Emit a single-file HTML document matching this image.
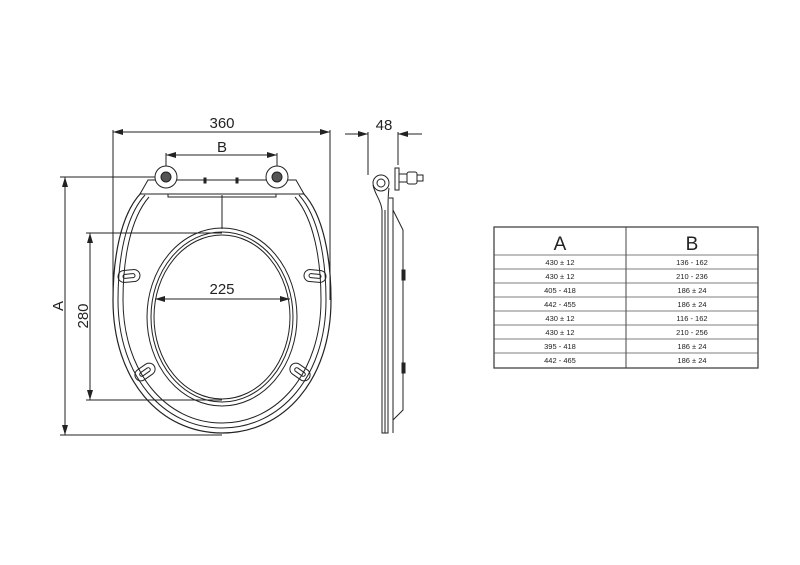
<!DOCTYPE html>
<html><head><style>
html,body{margin:0;padding:0;background:#fff;}
svg{display:block}
text{font-family:"Liberation Sans",sans-serif;fill:#222}
</style></head><body>
<svg width="800" height="565" viewBox="0 0 800 565" xmlns="http://www.w3.org/2000/svg">
<defs>
<marker id="ar" viewBox="0 0 10 6" refX="10" refY="3" markerWidth="10" markerHeight="6" orient="auto-start-reverse" markerUnits="userSpaceOnUse"><path d="M0,0 L10,3 L0,6z" fill="#222"/></marker>
</defs>
<g stroke="#222" fill="none" stroke-width="1">
<!-- dimension 360 -->
<line x1="113" y1="132" x2="330" y2="132" marker-start="url(#ar)" marker-end="url(#ar)"/>
<line x1="113" y1="130" x2="113" y2="300"/>
<line x1="330" y1="130" x2="330" y2="300"/>
<!-- B -->
<line x1="166" y1="155" x2="277" y2="155" marker-start="url(#ar)" marker-end="url(#ar)"/>
<line x1="166" y1="153" x2="166" y2="175"/>
<line x1="277" y1="153" x2="277" y2="175"/>
<!-- 48 -->
<line x1="345" y1="134" x2="368" y2="134" marker-end="url(#ar)"/>
<line x1="398" y1="134" x2="422" y2="134" marker-start="url(#ar)"/>
<line x1="368" y1="132" x2="368" y2="175"/>
<line x1="398" y1="132" x2="398" y2="165"/>
<!-- A -->
<line x1="65" y1="177" x2="65" y2="435" marker-start="url(#ar)" marker-end="url(#ar)"/>
<line x1="60" y1="177" x2="160" y2="177"/>
<line x1="60" y1="435" x2="222" y2="435"/>
<!-- 280 -->
<line x1="90" y1="233" x2="90" y2="400" marker-start="url(#ar)" marker-end="url(#ar)"/>
<line x1="86" y1="233" x2="222" y2="233"/>
<line x1="86" y1="400" x2="222" y2="400"/>
<!-- 225 -->
<line x1="155" y1="299" x2="290" y2="299" marker-start="url(#ar)" marker-end="url(#ar)"/>
<line x1="222" y1="195" x2="222" y2="229"/>
<!-- seat outer -->
<path d="M141,193 C120,215 113,260 113,300 C113,380 160,433 222,433 C284,433 331,380 331,300 C331,260 324,215 303,193" stroke-width="1.2"/>
<path d="M145,195 C125,217 118,260 118,300 C118,376 163,428 222,428 C281,428 326,376 326,300 C326,260 319,217 299,195"/>
<path d="M149,197 C130,219 123,260 123,300 C123,372 166,423 222,423 C278,423 321,372 321,300 C321,260 314,219 295,197"/>
<!-- opening -->
<ellipse cx="222" cy="317" rx="75" ry="89"/>
<ellipse cx="222" cy="317" rx="71" ry="85"/>
<ellipse cx="222" cy="317" rx="68" ry="82"/>
<!-- hinge bar -->
<path d="M140,194 L148,180 L296,180 L304,194 Z"/>
<line x1="140" y1="194" x2="304" y2="194"/>
<rect x="168" y="194" width="108" height="3"/>
<circle cx="166" cy="177" r="11" fill="#fff"/>
<circle cx="166" cy="177" r="5" fill="#555"/>
<circle cx="277" cy="177" r="11" fill="#fff"/>
<circle cx="277" cy="177" r="5" fill="#555"/>
<rect x="204" y="178" width="2" height="5" fill="#222"/>
<rect x="236" y="178" width="2" height="5" fill="#222"/>
<!-- slots -->
<g transform="translate(129,276) rotate(-5)"><rect x="-11" y="-6" width="22" height="12" rx="6"/><rect x="-6" y="-2" width="12" height="4" rx="2"/></g>
<g transform="translate(315,276) rotate(5)"><rect x="-11" y="-6" width="22" height="12" rx="6"/><rect x="-6" y="-2" width="12" height="4" rx="2"/></g>
<g transform="translate(145,372) rotate(-35)"><rect x="-11" y="-6" width="22" height="12" rx="6"/><rect x="-6" y="-2" width="12" height="4" rx="2"/></g>
<g transform="translate(300,372) rotate(35)"><rect x="-11" y="-6" width="22" height="12" rx="6"/><rect x="-6" y="-2" width="12" height="4" rx="2"/></g>
<!-- side view -->
<circle cx="381" cy="183" r="8"/>
<circle cx="381" cy="183" r="4"/>
<path d="M373,185 C375,195 381,200 382,210 L382,433 L388,433 L388,210 C388,200 388,195 389,188"/>
<line x1="385" y1="210" x2="385" y2="433"/>
<path d="M389,198 L393,198 L393,433"/>
<path d="M393,210 L403,230 L403,410 L393,420"/>
<rect x="395" y="168" width="4" height="22" fill="#fff"/>
<rect x="399" y="174" width="8" height="8"/>
<rect x="407" y="172" width="10" height="12" rx="2"/>
<rect x="417" y="175" width="6" height="6"/>
<rect x="402" y="270" width="3" height="10" fill="#222"/>
<rect x="402" y="363" width="3" height="10" fill="#222"/>
<!-- table -->
<rect x="494" y="227" width="264" height="141" stroke="#444" stroke-width="1.3"/>
<line x1="626" y1="227" x2="626" y2="368" stroke="#444"/>
<g stroke="#555" stroke-width="0.8">
<line x1="494" y1="255" x2="758" y2="255"/>
<line x1="494" y1="269" x2="758" y2="269"/>
<line x1="494" y1="283" x2="758" y2="283"/>
<line x1="494" y1="297" x2="758" y2="297"/>
<line x1="494" y1="311" x2="758" y2="311"/>
<line x1="494" y1="325" x2="758" y2="325"/>
<line x1="494" y1="339" x2="758" y2="339"/>
<line x1="494" y1="353" x2="758" y2="353"/>
</g>
</g>
<g font-size="15" text-anchor="middle">
<text x="222" y="128">360</text>
<text x="222" y="152">B</text>
<text x="384" y="130">48</text>
<text x="222" y="294">225</text>
<text transform="translate(63,306) rotate(-90)" text-anchor="middle">A</text>
<text transform="translate(88,316) rotate(-90)" text-anchor="middle">280</text>
</g>
<g text-anchor="middle">
<text x="560" y="250" font-size="19">A</text>
<text x="692" y="250" font-size="19">B</text>
<g font-size="7.5">
<text x="560" y="265">430 ± 12</text><text x="692" y="265">136 - 162</text>
<text x="560" y="279">430 ± 12</text><text x="692" y="279">210 - 236</text>
<text x="560" y="293">405 - 418</text><text x="692" y="293">186 ± 24</text>
<text x="560" y="307">442 - 455</text><text x="692" y="307">186 ± 24</text>
<text x="560" y="321">430 ± 12</text><text x="692" y="321">116 - 162</text>
<text x="560" y="335">430 ± 12</text><text x="692" y="335">210 - 256</text>
<text x="560" y="349">395 - 418</text><text x="692" y="349">186 ± 24</text>
<text x="560" y="363">442 - 465</text><text x="692" y="363">186 ± 24</text>
</g>
</g>
</svg>
</body></html>
